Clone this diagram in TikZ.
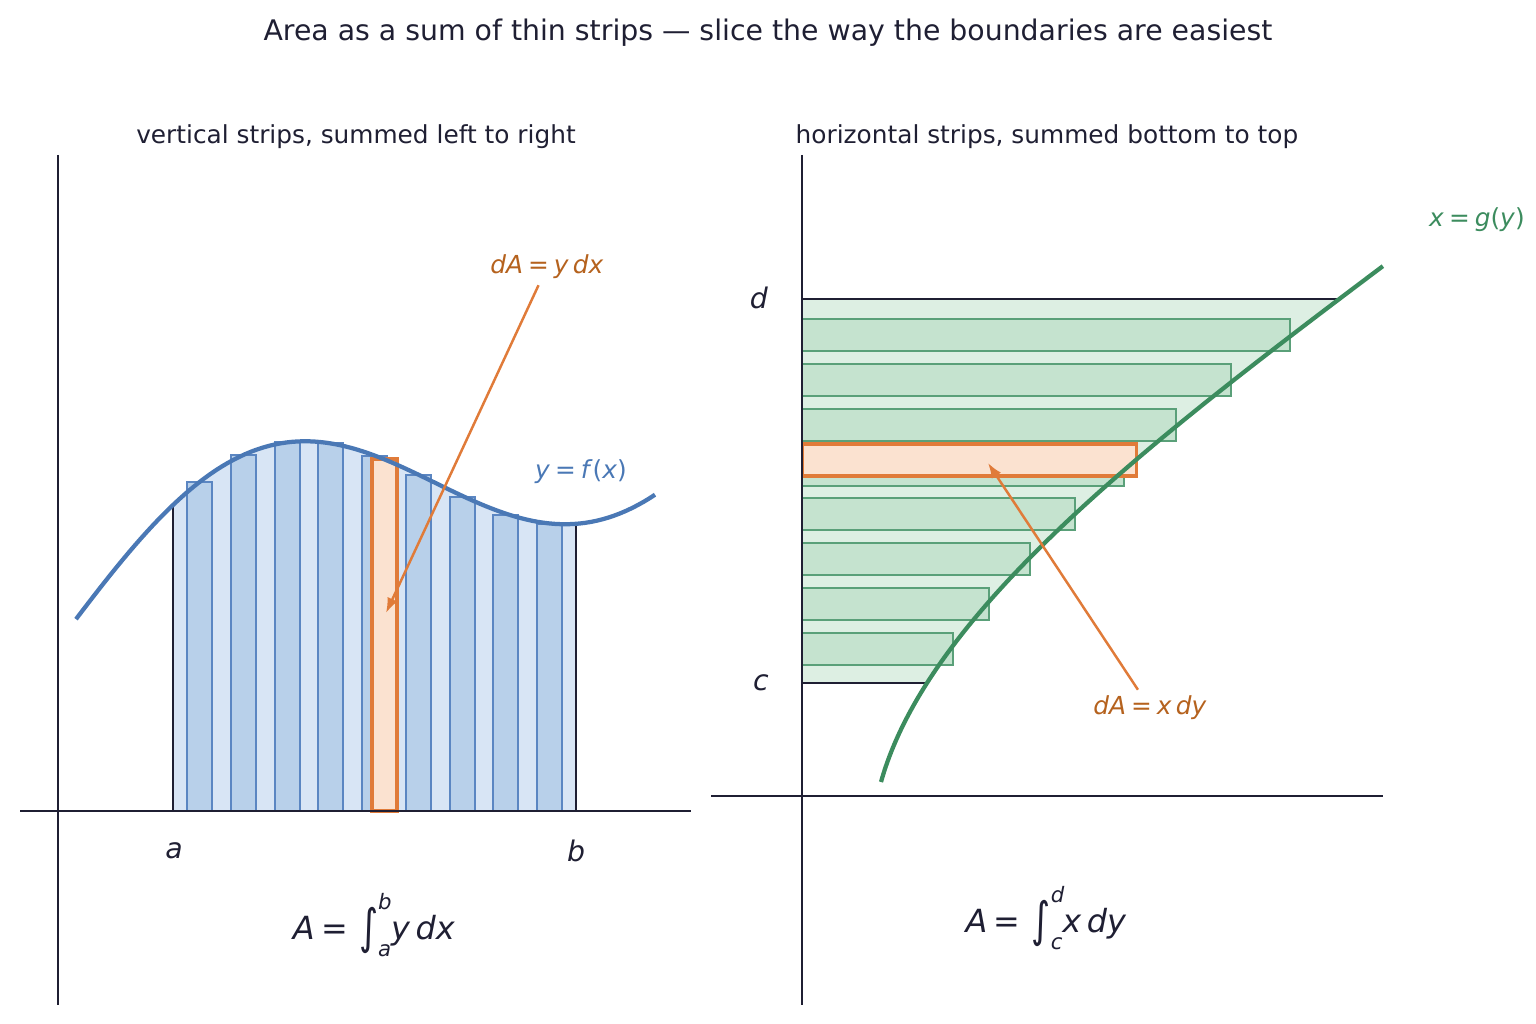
\documentclass[tikz,border=0pt]{standalone}
\usepackage{fontspec}
\usepackage{graphicx}
\setmainfont{DejaVu Sans}
\usetikzlibrary{arrows.meta,positioning}

\definecolor{ink}{HTML}{1F1F33}
\definecolor{fblue}{HTML}{4A78B5}
\definecolor{regionblue}{HTML}{D8E5F5}
\definecolor{stripblue}{HTML}{B8D0EA}
\definecolor{edgeblue}{HTML}{5B86C2}
\definecolor{gcurve}{HTML}{3C8C5E}
\definecolor{regiongreen}{HTML}{DDEFE3}
\definecolor{stripgreen}{HTML}{C5E3CF}
\definecolor{edgegreen}{HTML}{5AA079}
\definecolor{pickorange}{HTML}{E07B39}
\definecolor{pickfill}{HTML}{FBE2D0}
\definecolor{labelorange}{HTML}{B5621E}

\newcommand{\mi}[1]{\textit{#1}}
\newcommand{\eqs}{\hspace{0.2em}=\hspace{0.2em}}
\newcommand{\bigint}{\hspace{0.15em}\raisebox{-0.13em}{\scalebox{1.15}[1.5]{∫}}}
\newcommand{\intlim}[2]{%
  \makebox[0pt][l]{\raisebox{0.95em}{\fontsize{12}{12}\selectfont\mi{#2}}}%
  \raisebox{-0.55em}{\fontsize{12}{12}\selectfont\mi{#1}}}

\begin{document}
\begin{tikzpicture}[x=0.1984mm, y=-0.1984mm,
    axisline/.style={draw=ink, line width=1.1pt},
    edge/.style={draw=ink, line width=1pt},
    vstrip/.style={draw=edgeblue, fill=stripblue, line width=0.9pt},
    hstrip/.style={draw=edgegreen, fill=stripgreen, line width=0.9pt},
    pick/.style={draw=pickorange, fill=pickfill, line width=1.7pt},
    arrow/.style={draw=pickorange, line width=1.4pt, -{Latex[length=3mm, width=2.2mm]}},
    title/.style={text=ink, font=\fontsize{16}{19}\selectfont},
    subtitle/.style={text=ink, font=\fontsize{14}{17}\selectfont},
    tick/.style={text=ink, font=\fontsize{16}{19}\selectfont},
    formula/.style={text=ink, font=\fontsize{18}{22}\selectfont},
    note/.style={text=labelorange, font=\fontsize{14}{17}\selectfont},
    curvelabel/.style={font=\fontsize{14}{17}\selectfont}
]
    \useasboundingbox (0,0) rectangle (1536,1024);

    % titres
    \node[title] (title) at (768,33) {Area as a sum of thin strips — slice the way the boundaries are easiest};
    \node[subtitle] (subL) at (356,137) {vertical strips, summed left to right};
    \node[subtitle] (subR) at (1047,137) {horizontal strips, summed bottom to top};

    % Panneau gauche : bandes verticales
    \fill[regionblue] plot[domain=173:576, samples=60] (\x, {664.6-0.418*\x-108*sin(0.48106*\x-29.28)}) -- (576,811) -- (173,811) -- cycle;
    \draw[edge] (173,811) -- (173,505);
    \draw[edge] (576,811) -- (576,524);
    \foreach \xl/\yt in {187/482, 231/455, 275/442, 318/443, 362/456, 406/475, 450/497, 493/515, 537/524}
        \draw[vstrip] (\xl,811) rectangle (\xl+25,\yt);
    \draw[pick] (372,811) rectangle (397,459);

    \draw[axisline] (58,155) -- (58,1005);
    \draw[axisline] (20,811) -- (691,811);

    \draw[fblue, line width=2.4pt] plot[domain=76:655, samples=100] (\x, {664.6-0.418*\x-108*sin(0.48106*\x-29.28)});

    \node[tick] (la) at (174,851) {\mi{a}};
    \node[tick] (lb) at (576,851) {\mi{b}};
    \node[curvelabel, text=fblue] (fx) at (581,472) {\mi{y}\eqs\mi{f}(\mi{x})};
    \node[note] (dAy) at (547,267) {\mi{dA}\eqs\mi{y}\,\mi{dx}};
    \coordinate (tipL) at (386,613);
    \draw[arrow] (dAy) -- (tipL);
    \node[formula] (areaL) at (374,925) {\mi{A}\eqs\bigint\intlim{a}{b}\mi{y}\,\mi{dx}};

    % Panneau droit : bandes horizontales
    \fill[regiongreen] plot[domain=0.99:4.83, samples=60] ({881+27.9*\x+20.01*\x*\x-1.2716*\x*\x*\x}, {782-100*\x}) -- (802,299) -- (802,683) -- cycle;
    \foreach \yt/\xr in {319/1290, 364/1231, 409/1176, 454/1124, 498/1075, 543/1030, 588/989, 633/953}
        \draw[hstrip] (802,\yt) rectangle (\xr,\yt+32);
    \draw[pick] (802,444) rectangle (1136,476);
    \draw[edge] (802,299) -- (1339,299);
    \draw[edge] (802,683) -- (927,683);

    \draw[axisline] (802,155) -- (802,1005);
    \draw[axisline] (711,796) -- (1383,796);

    \draw[gcurve, line width=2.4pt] plot[domain=0:5.16, samples=100] ({881+27.9*\x+20.01*\x*\x-1.2716*\x*\x*\x}, {782-100*\x});

    \node[tick] (ld) at (759,298) {\mi{d}};
    \node[tick] (lc) at (761,683) {\mi{c}};
    \node[curvelabel, text=gcurve] (gy) at (1477,220) {\mi{x}\eqs\mi{g}(\mi{y})};
    \node[note] (dAx) at (1150,708) {\mi{dA}\eqs\mi{x}\,\mi{dy}};
    \coordinate (tipR) at (988,463);
    \draw[arrow] (dAx) -- (tipR);
    \node[formula] (areaR) at (1046,918) {\mi{A}\eqs\bigint\intlim{c}{d}\mi{x}\,\mi{dy}};

\end{tikzpicture}
\end{document}
